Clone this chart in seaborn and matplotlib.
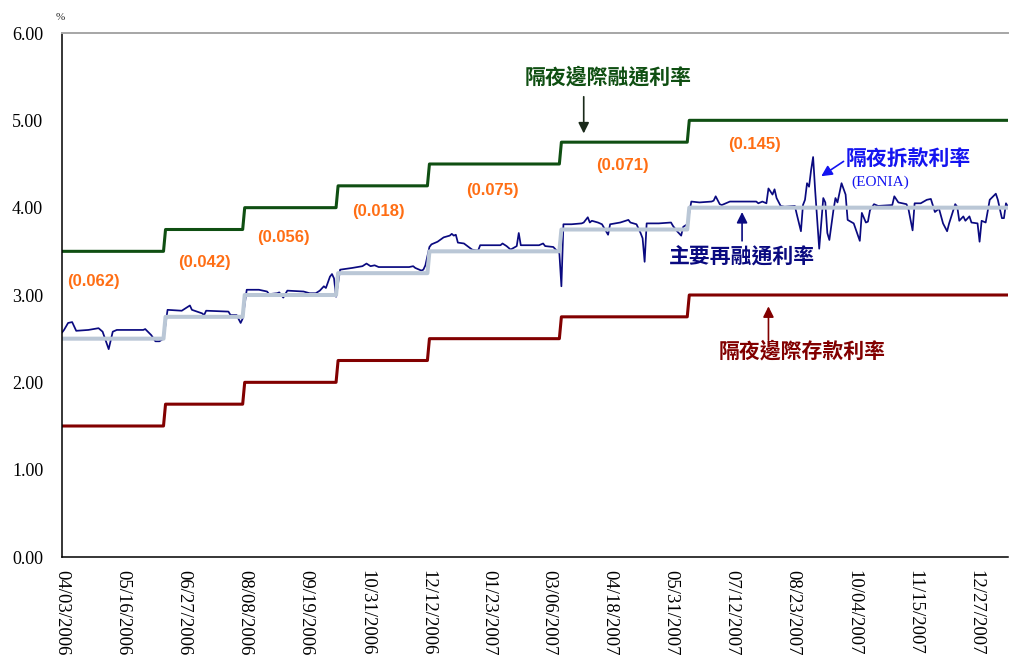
import numpy as np
import pandas as pd
import matplotlib
matplotlib.use("Agg")
import matplotlib.pyplot as plt
import seaborn as sns

# ---- axis labels (one tick every 30 trading days) ----
tick_labels = ["04/03/2006", "05/16/2006", "06/27/2006", "08/08/2006", "09/19/2006",
               "10/31/2006", "12/12/2006", "01/23/2007", "03/06/2007", "04/18/2007",
               "05/31/2007", "07/12/2007", "08/23/2007", "10/04/2007", "11/15/2007",
               "12/27/2007"]
tick_step = 30
last_day = 466

# ---- ECB policy rates (trading-day index of each change) ----
change_day = [0, 51, 90, 136, 181, 246, 309]
marginal_rate = [3.50, 3.75, 4.00, 4.25, 4.50, 4.75, 5.00]
main_rate = [2.50, 2.75, 3.00, 3.25, 3.50, 3.75, 4.00]
deposit_rate = [1.50, 1.75, 2.00, 2.25, 2.50, 2.75, 3.00]

# ---- EONIA overnight rate ----
eonia_day = [0, 1, 3, 5, 7, 13, 18, 20, 23, 25, 27, 40, 41, 44, 46, 48, 50,
             52, 59, 63, 64, 69, 70, 71, 82, 83, 86, 88, 89,
             91, 97, 101, 102, 106, 107, 109, 111, 119, 122, 125, 127, 129, 130, 132, 133, 134, 135,
             137, 143, 148, 150, 152, 154, 156, 171, 173, 174, 177, 178, 179,
             181, 182, 185, 188, 191, 192, 193, 194, 195, 198, 202, 204, 205, 206, 216, 217, 219,
             221, 224, 225, 226, 235, 237, 238, 242, 244, 245, 246,
             247, 251, 256, 257, 259, 260, 261, 264, 266, 269, 270, 275, 279, 280, 283, 285, 286,
             287, 288, 294, 300, 301, 303, 305, 306, 308,
             310, 314, 320, 321, 322, 324, 325, 329, 342, 343, 345, 347, 348, 350, 351, 352, 354,
             356, 361, 362, 364, 365, 366, 367, 368, 369, 370, 371, 373, 375, 376, 377, 378, 380,
             381, 382, 384, 386, 387, 390, 393, 394, 396, 397, 398, 400, 402, 409, 410, 412, 416,
             417, 419, 420, 423, 426, 428, 430, 432, 434, 436, 437, 440, 441, 442, 444, 445, 447,
             448, 451, 452, 453, 455, 457, 460, 461, 463, 464, 465, 466]
eonia_rate = [2.57, 2.60, 2.68, 2.69, 2.59, 2.60, 2.62, 2.58, 2.38, 2.58, 2.60, 2.60, 2.61, 2.54, 2.47, 2.47, 2.50,
              2.83, 2.82, 2.88, 2.83, 2.79, 2.77, 2.82, 2.81, 2.77, 2.77, 2.68, 2.73,
              3.06, 3.06, 3.04, 3.01, 3.02, 3.03, 2.97, 3.05, 3.04, 3.02, 3.02, 3.05, 3.10, 3.08, 3.21, 3.24, 3.19, 2.98,
              3.29, 3.31, 3.33, 3.36, 3.33, 3.34, 3.32, 3.32, 3.33, 3.31, 3.28, 3.29, 3.34,
              3.55, 3.58, 3.61, 3.66, 3.68, 3.70, 3.68, 3.69, 3.60, 3.59, 3.52, 3.51, 3.51, 3.57, 3.57, 3.59, 3.56,
              3.52, 3.56, 3.71, 3.57, 3.57, 3.59, 3.56, 3.55, 3.50, 3.48, 3.10,
              3.81, 3.81, 3.82, 3.83, 3.89, 3.83, 3.85, 3.83, 3.81, 3.69, 3.81, 3.83, 3.86, 3.83, 3.81, 3.71, 3.65,
              3.38, 3.82, 3.82, 3.83, 3.79, 3.73, 3.68, 3.78, 3.81,
              4.07, 4.06, 4.07, 4.08, 4.13, 4.04, 4.03, 4.07, 4.07, 4.05, 4.07, 4.05, 4.22, 4.15, 4.21, 4.11, 4.02,
              4.01, 4.02, 3.92, 3.73, 4.03, 4.09, 4.28, 4.24, 4.43, 4.58, 4.20, 3.53, 4.11, 4.06, 3.71, 3.63, 3.97,
              4.11, 4.06, 4.28, 4.15, 3.86, 3.82, 3.62, 3.94, 3.83, 3.84, 3.97, 4.04, 4.02, 4.03, 4.13, 4.06, 4.04,
              3.98, 3.74, 4.05, 4.05, 4.09, 4.10, 3.95, 3.99, 3.82, 3.73, 3.82, 4.04, 4.01, 3.85, 3.90, 3.85, 3.90,
              3.83, 3.82, 3.61, 3.85, 3.83, 4.09, 4.16, 4.09, 3.88, 3.88, 4.05, 4.01]

# ---- average EONIA spread over the main rate in each period ----
spread_labels = ["(0.062)", "(0.042)", "(0.056)", "(0.018)", "(0.075)", "(0.071)", "(0.145)"]
spread_x = [15.7, 70, 109, 156, 212, 276, 341]
spread_y = [3.15, 3.37, 3.66, 3.96, 4.20, 4.48, 4.72]

GREEN = "#0f4f12"
RED = "#820000"
NAVY = "#0a0a80"
BLUE = "#1414f0"
STEEL = "#bac7d6"
ORANGE = "#ff6e14"

sns.set_theme(style="white")
plt.rcParams["font.family"] = ["Liberation Serif", "DejaVu Serif"]

days = np.arange(last_day + 1)
policy = (pd.DataFrame({"day": change_day, "marginal": marginal_rate,
                        "main": main_rate, "deposit": deposit_rate})
          .set_index("day").reindex(days).ffill().reset_index())
eonia = pd.DataFrame({"day": eonia_day, "rate": eonia_rate})

fig = plt.figure(figsize=(10.10, 6.55), dpi=100)
ax = fig.add_axes([62 / 1010, 1 - 557 / 655, (1008 - 62) / 1010, (557 - 33) / 655])

sns.lineplot(data=policy, x="day", y="marginal", color=GREEN, lw=2.2, ax=ax)
sns.lineplot(data=policy, x="day", y="deposit", color=RED, lw=2.2, ax=ax)
sns.lineplot(data=eonia, x="day", y="rate", color=NAVY, lw=1.25, ax=ax)
sns.lineplot(data=policy, x="day", y="main", color=STEEL, lw=2.9, ax=ax)

ax.set_xlim(0, last_day)
ax.set_ylim(0, 6)
ax.set_xlabel("")
ax.set_ylabel("")

ax.set_xticks(np.arange(len(tick_labels)) * tick_step)
ax.set_xticklabels(tick_labels, rotation=270, fontsize=13.5, va="top", ha="center")
ax.set_yticks(np.arange(0, 7, 1))
ax.set_yticklabels([f"{v:.2f}" for v in np.arange(0, 7, 1)], fontsize=13)
ax.tick_params(axis="both", direction="in", length=5, width=1, colors="black")
ax.tick_params(axis="x", pad=9)
ax.tick_params(axis="y", pad=13.5)

for side in ("left", "bottom"):
    ax.spines[side].set_color("black")
    ax.spines[side].set_linewidth(1.1)
ax.spines["top"].set_color("#a6a6a6")
ax.spines["top"].set_linewidth(1.4)
ax.spines["right"].set_visible(False)

fig.text(60 / 1010, 1 - 17 / 655, "%", fontsize=8, ha="center", va="center")

cjk = dict(family=["Noto Sans CJK TC", "DejaVu Sans"], fontweight="bold", fontsize=15,
           ha="center", va="center")

for label, x, y in zip(spread_labels, spread_x, spread_y):
    ax.text(x, y, label, color=ORANGE, fontsize=12, fontweight="bold",
            family=["Liberation Sans", "DejaVu Sans"], ha="center", va="center")

def arrow(tail, head, color):
    ax.annotate("", xy=head, xytext=tail,
                arrowprops=dict(arrowstyle="-|>", color=color, lw=1.2,
                                mutation_scale=16, shrinkA=0, shrinkB=0))

ax.text(269, 5.50, "隔夜邊際融通利率", color=GREEN, **cjk)
arrow((257, 5.27), (257, 4.85), "#1a2a1a")

ax.text(417, 4.57, "隔夜拆款利率", color=BLUE, **cjk)
ax.text(403, 4.29, "(EONIA)", color=BLUE, fontsize=11, ha="center", va="center")
arrow((385, 4.53), (374, 4.36), BLUE)

ax.text(335, 3.44, "主要再融通利率", color=NAVY, **cjk)
arrow((335, 3.62), (335, 3.95), NAVY)

ax.text(364.5, 2.36, "隔夜邊際存款利率", color=RED, **cjk)
arrow((348, 2.48), (348, 2.87), RED)

fig.savefig("out.png", dpi=100)
